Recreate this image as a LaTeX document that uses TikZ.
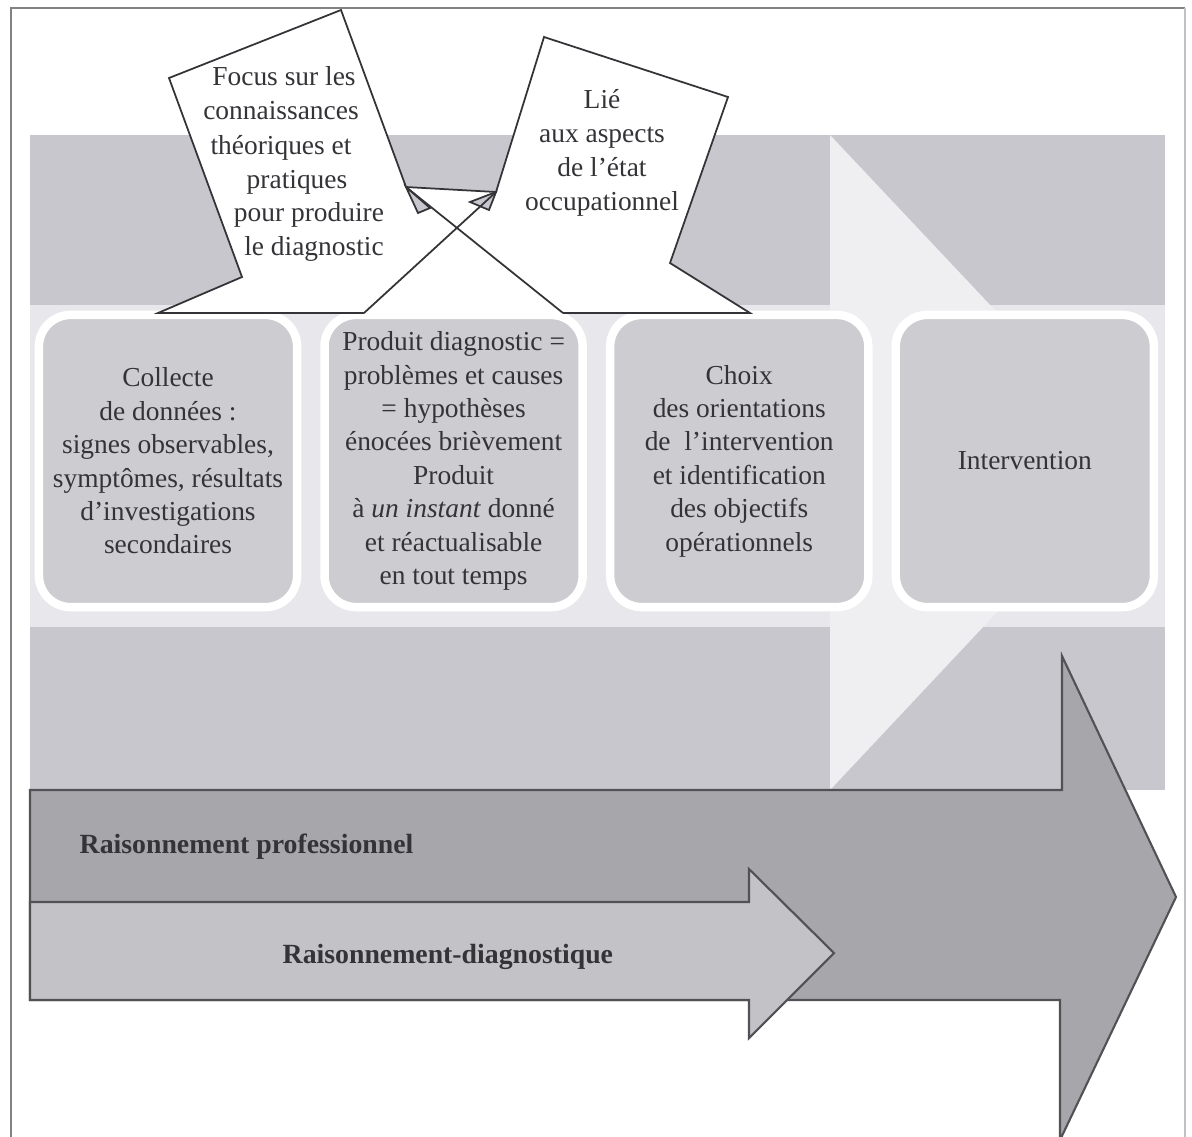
\documentclass[tikz,border=0pt]{standalone}
\usepackage{fontspec}
\setmainfont{Liberation Serif}
\usetikzlibrary{positioning}
\definecolor{ink}{RGB}{52,52,56}
\definecolor{frame}{RGB}{130,130,130}
\definecolor{page}{RGB}{199,199,205}
\definecolor{band}{RGB}{232,232,236}
\definecolor{chevron}{RGB}{239,239,242}
\definecolor{cell}{RGB}{204,204,209}
\definecolor{profarrow}{RGB}{166,166,171}
\definecolor{diagarrow}{RGB}{194,194,199}
\definecolor{rim}{RGB}{82,82,86}
\tikzset{
  every picture/.style={font=\fontsize{7.8}{9.5}\selectfont},
  stage/.style={draw=white,line width=2.4pt,fill=cell,rounded corners=9pt,
    minimum width=2.58cm,minimum height=2.92cm,align=center,text=ink,inner sep=2pt},
  bubble/.style={draw=ink,line width=0.5pt,line join=miter},
  shaft/.style={draw=rim,line width=0.6pt,line join=miter},
  say/.style={text=ink,inner sep=0pt,anchor=base},
  tag/.style={text=ink,font=\fontsize{7.9}{10}\selectfont\bfseries,inner sep=0pt,anchor=west},
}

\begin{document}
\begin{tikzpicture}[x=0.01cm,y=-0.01cm]
  \useasboundingbox (0,0) rectangle (1192,1136);
  % page frame
  \draw[frame,line width=0.7pt] (11,1140) -- (11,8) -- (1185,8);
  \draw[frame!50,line width=0.5pt] (1185,8) -- (1185,1140);
  % background
  \fill[page] (30,135) rectangle (1165,790);
  \fill[band] (30,305) rectangle (1165,627);
  \fill[chevron] (830,135) -- (1138,462) -- (830,790) -- cycle;
  % the two reasonings
  \filldraw[shaft,fill=profarrow] (30,790) -- (1062,790) -- (1062,656) -- (1176,897)
    -- (1060,1140) -- (1060,1000) -- (30,1000) -- cycle;
  \filldraw[shaft,fill=diagarrow] (30,902) -- (749,902) -- (749,869) -- (834,953)
    -- (749,1038) -- (749,1000) -- (30,1000) -- cycle;
  \node[tag] (prof) at (79,847) {Raisonnement professionnel};
  \node[tag] (diag) at (282,957) {Raisonnement-diagnostique};
  % stages
  \node[stage] (collecte) at (168,461) {Collecte\\de données :\\signes observables,\\symptômes, résultats\\d'investigations\\secondaires};
  \node[stage,right=0.19cm of collecte] (produit) {Produit diagnostic =\\problèmes et causes\\= hypothèses\\énocées brièvement\\Produit\\à \emph{un instant} donné\\et réactualisable\\en tout temps};
  \node[stage,right=0.19cm of produit] (choix) {Choix\\des orientations\\de\ \ l'intervention\\et identification\\des objectifs\\opérationnels};
  \node[stage,right=0.19cm of choix] (intervention) {Intervention};
  % callouts
  \fill[white] (341,10) -- (169,78) -- (242,277) -- (158,313) -- (750,313) -- (670,263)
    -- (728,97) -- (544,37) -- (496,192) -- (406,187) -- cycle;
  \filldraw[bubble,fill=page] (406,187) -- (418,213) -- (430,208) -- cycle;
  \filldraw[bubble,fill=page] (470,202) -- (496,192) -- (489,210) -- cycle;
  \draw[bubble] (364,313) -- (158,313) -- (242,277) -- (169,78) -- (341,10) -- (406,187) -- (563,313);
  \draw[bubble] (563,313) -- (750,313) -- (670,263) -- (728,97) -- (544,37) -- (496,192) -- (364,313);
  \draw[bubble] (406,187) -- (496,192);
  \foreach \x/\y/\t [count=\i] in {284/85/Focus sur les, 281/119/connaissances,
      281/154/théoriques et, 297/188/pratiques, 309/221/pour produire, 314/255/le diagnostic}
    \node[say] (focus\i) at (\x,\y) {\t};
  \foreach \t [count=\i] in {Lié, aux aspects, de l'état, occupationnel}
    \node[say] (lie\i) at (602,{74+34*\i}) {\t};
\end{tikzpicture}
\end{document}
